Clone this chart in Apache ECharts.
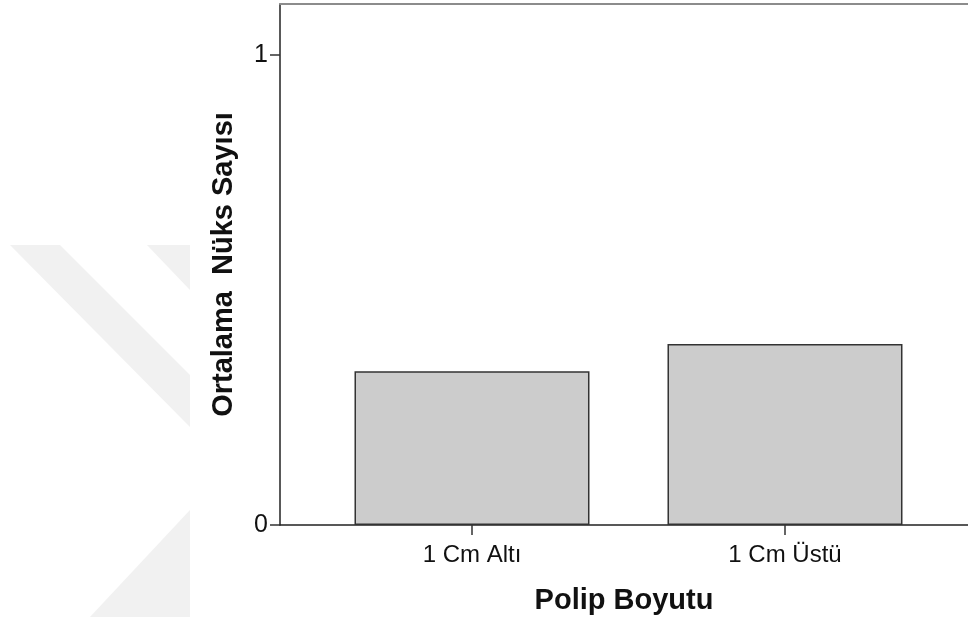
<!DOCTYPE html>
<html>
<head>
<meta charset="utf-8">
<script src="https://cdn.jsdelivr.net/npm/echarts@6/dist/echarts.min.js"></script>
<style>
html,body{margin:0;padding:0;background:#fff;}
#c{width:968px;height:623px;}
</style>
</head>
<body>
<div id="c"></div>
<script>
const categories = ["1 Cm Altı", "1 Cm Üstü"];
const meanRecurrence = [0.327, 0.385];
const yTicks = [0, 1];
const xTitle = "Polip Boyutu";
const yTitle = "Ortalama  Nüks Sayısı";

const FONT = "'Liberation Sans', Arial, sans-serif";
const chart = echarts.init(document.getElementById('c'), null, {renderer: 'canvas'});

const catIdx = categories.map((_, i) => i);
const barData = meanRecurrence.map((v, i) => [i, v]);

const wm = '#f1f1f1';
const option = {
  backgroundColor: '#ffffff',
  animation: false,
  graphic: [
    {type: 'polygon', z: -10, shape: {points: [[10,245],[60,245],[190,375],[190,427]]}, style: {fill: wm}},
    {type: 'polygon', z: -10, shape: {points: [[147,245],[190,245],[190,290]]}, style: {fill: wm}},
    {type: 'polygon', z: -10, shape: {points: [[190,510],[90,617],[190,617]]}, style: {fill: wm}}
  ],
  grid: {left: 280, right: 0, top: 4, bottom: 98},
  xAxis: [{
    type: 'value',
    min: -0.6134,
    max: 1.5847,
    splitLine: {show: false},
    axisLine: {show: true, onZero: false, lineStyle: {color: '#222', width: 1.5}},
    axisTick: {show: true, customValues: catIdx, length: 10, lineStyle: {color: '#333', width: 1.5}},
    axisLabel: {
      customValues: catIdx,
      formatter: v => categories[v] || '',
      fontFamily: FONT, fontSize: 24, color: '#111', margin: 18
    },
    name: xTitle,
    nameLocation: 'middle',
    nameGap: 61,
    nameTextStyle: {fontFamily: FONT, fontSize: 29, fontWeight: 'bold', color: '#111'}
  }, {
    type: 'value',
    position: 'top',
    min: -0.6134,
    max: 1.5847,
    splitLine: {show: false},
    axisLine: {show: true, onZero: false, lineStyle: {color: '#8c8c8c', width: 2}},
    axisTick: {show: false},
    axisLabel: {show: false}
  }],
  yAxis: {
    type: 'value',
    min: 0,
    max: 1.1085,
    splitLine: {show: false},
    axisLine: {show: true, onZero: false, lineStyle: {color: '#222', width: 1.5}},
    axisTick: {show: true, customValues: yTicks, length: 10, lineStyle: {color: '#333', width: 1.5}},
    axisLabel: {
      customValues: yTicks,
      fontFamily: FONT, fontSize: 25, color: '#111', margin: 12
    },
    name: yTitle,
    nameLocation: 'middle',
    nameGap: 42,
    nameRotate: 90,
    nameTextStyle: {fontFamily: FONT, fontSize: 29, fontWeight: 'bold', color: '#111'}
  },
  series: [{
    type: 'bar',
    xAxisIndex: 0,
    data: barData,
    barWidth: 235,
    itemStyle: {color: '#cccccc', borderColor: '#333333', borderWidth: 1.5}
  }]
};
chart.setOption(option);
</script>
</body>
</html>
